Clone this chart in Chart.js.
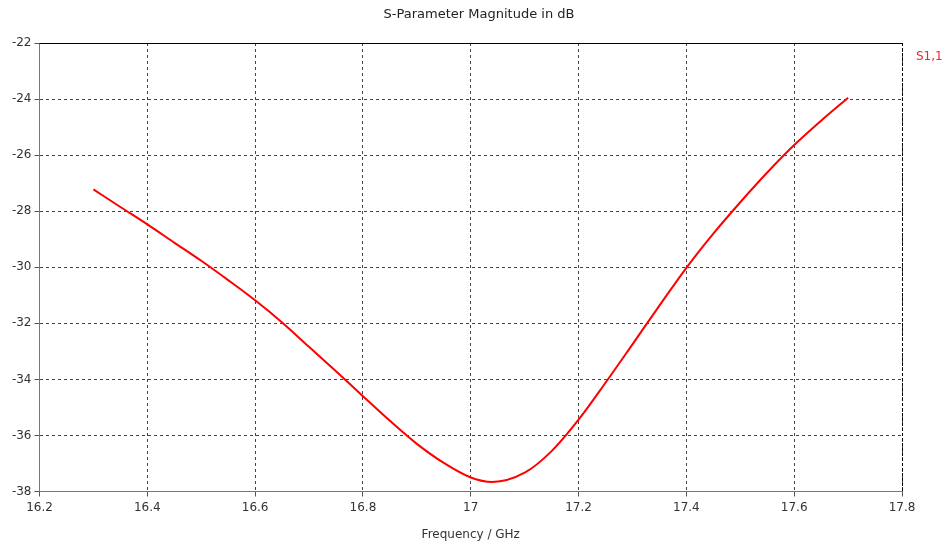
<!DOCTYPE html>
<html>
<head>
<meta charset="utf-8">
<script src="https://cdn.jsdelivr.net/npm/chart.js@4/dist/chart.umd.min.js"></script>
<style>
  html, body { margin: 0; padding: 0; background: #fff; }
  #wrap { width: 945px; height: 542px; }
</style>
</head>
<body>
<div id="wrap"><canvas id="sChart" width="945" height="542"></canvas></div>
<script>
// frequency points (GHz) and S1,1 magnitude (dB)
const freqGHz = [16.30, 16.35, 16.40, 16.45, 16.50, 16.55, 16.60, 16.65, 16.70, 16.75,
                 16.80, 16.85, 16.90, 16.95, 17.00, 17.04, 17.10, 17.15, 17.20, 17.25,
                 17.30, 17.35, 17.40, 17.45, 17.50, 17.55, 17.60, 17.65, 17.70];
const s11dB = [-27.22, -27.85, -28.47, -29.12, -29.77, -30.46, -31.18, -31.97, -32.84, -33.71,
               -34.60, -35.48, -36.30, -36.98, -37.50, -37.66, -37.33, -36.56, -35.44, -34.12,
               -32.75, -31.37, -30.02, -28.80, -27.68, -26.62, -25.64, -24.77, -23.95];
const xTicks = [16.2, 16.4, 16.6, 16.8, 17, 17.2, 17.4, 17.6, 17.8];
const yTicks = [-38, -36, -34, -32, -30, -28, -26, -24, -22];

const FONT = "Tahoma, 'DejaVu Sans', sans-serif";

// title, legend label and the frame edges (top solid, right dashed)
const framePlugin = {
    id: 'frame',
    afterDraw(chart) {
        const { ctx, chartArea: a } = chart;
        ctx.save();
        ctx.fillStyle = '#222';
        ctx.font = '13px ' + FONT;
        ctx.textAlign = 'center';
        ctx.textBaseline = 'middle';
        ctx.fillText('S-Parameter Magnitude in dB', 479, 15);

        ctx.font = '12px ' + FONT;
        ctx.fillStyle = '#ff2020';
        ctx.textAlign = 'left';
        ctx.fillText('S1,1', 916, 57);

        ctx.strokeStyle = '#000';
        ctx.lineWidth = 1;
        ctx.beginPath();
        ctx.moveTo(a.left, a.top + 0.5);
        ctx.lineTo(a.right, a.top + 0.5);
        ctx.stroke();
        ctx.setLineDash([3, 2]);
        ctx.beginPath();
        ctx.moveTo(a.right + 0.5, a.top);
        ctx.lineTo(a.right + 0.5, a.bottom);
        ctx.stroke();
        ctx.restore();
    }
};

new Chart(document.getElementById('sChart'), {
    type: 'line',
    data: {
        datasets: [{
            label: 'S1,1',
            data: freqGHz.map((f, i) => ({ x: f, y: s11dB[i] })),
            borderColor: '#ff0000',
            borderWidth: 2,
            pointRadius: 0,
            cubicInterpolationMode: 'monotone',
            fill: false
        }]
    },
    options: {
        responsive: false,
        animation: false,
        layout: { padding: { left: 0, right: 43, top: 43, bottom: 0 } },
        plugins: {
            legend: { display: false },
            tooltip: { enabled: false }
        },
        scales: {
            x: {
                type: 'linear',
                min: 16.2,
                max: 17.8,
                afterBuildTicks: s => { s.ticks = xTicks.map(v => ({ value: v })); },
                afterFit: s => { s.height = 50.5; },
                grid: {
                    color: '#444',
                    tickColor: '#555',
                    tickLength: 5,
                    tickBorderDash: [],
                },
                border: { display: true, color: '#777', width: 1, dash: [3, 3] },
                ticks: {
                    color: '#333',
                    font: { family: FONT, size: 12 },
                    padding: 4,
                    maxRotation: 0,
                    callback: v => String(v)
                },
                title: {
                    display: true,
                    text: 'Frequency / GHz',
                    color: '#333',
                    font: { family: FONT, size: 12 },
                    padding: { top: 4, bottom: 0 }
                }
            },
            y: {
                type: 'linear',
                min: -38,
                max: -22,
                afterBuildTicks: s => { s.ticks = yTicks.map(v => ({ value: v })); },
                afterFit: s => { s.width = 39.5; },
                grid: {
                    color: '#444',
                    tickColor: '#555',
                    tickLength: 5,
                    tickBorderDash: [],
                },
                border: { display: true, color: '#777', width: 1, dash: [3, 3] },
                ticks: {
                    color: '#333',
                    font: { family: FONT, size: 12 },
                    padding: 3,
                    callback: v => String(v)
                }
            }
        }
    },
    plugins: [framePlugin]
});
</script>
</body>
</html>
